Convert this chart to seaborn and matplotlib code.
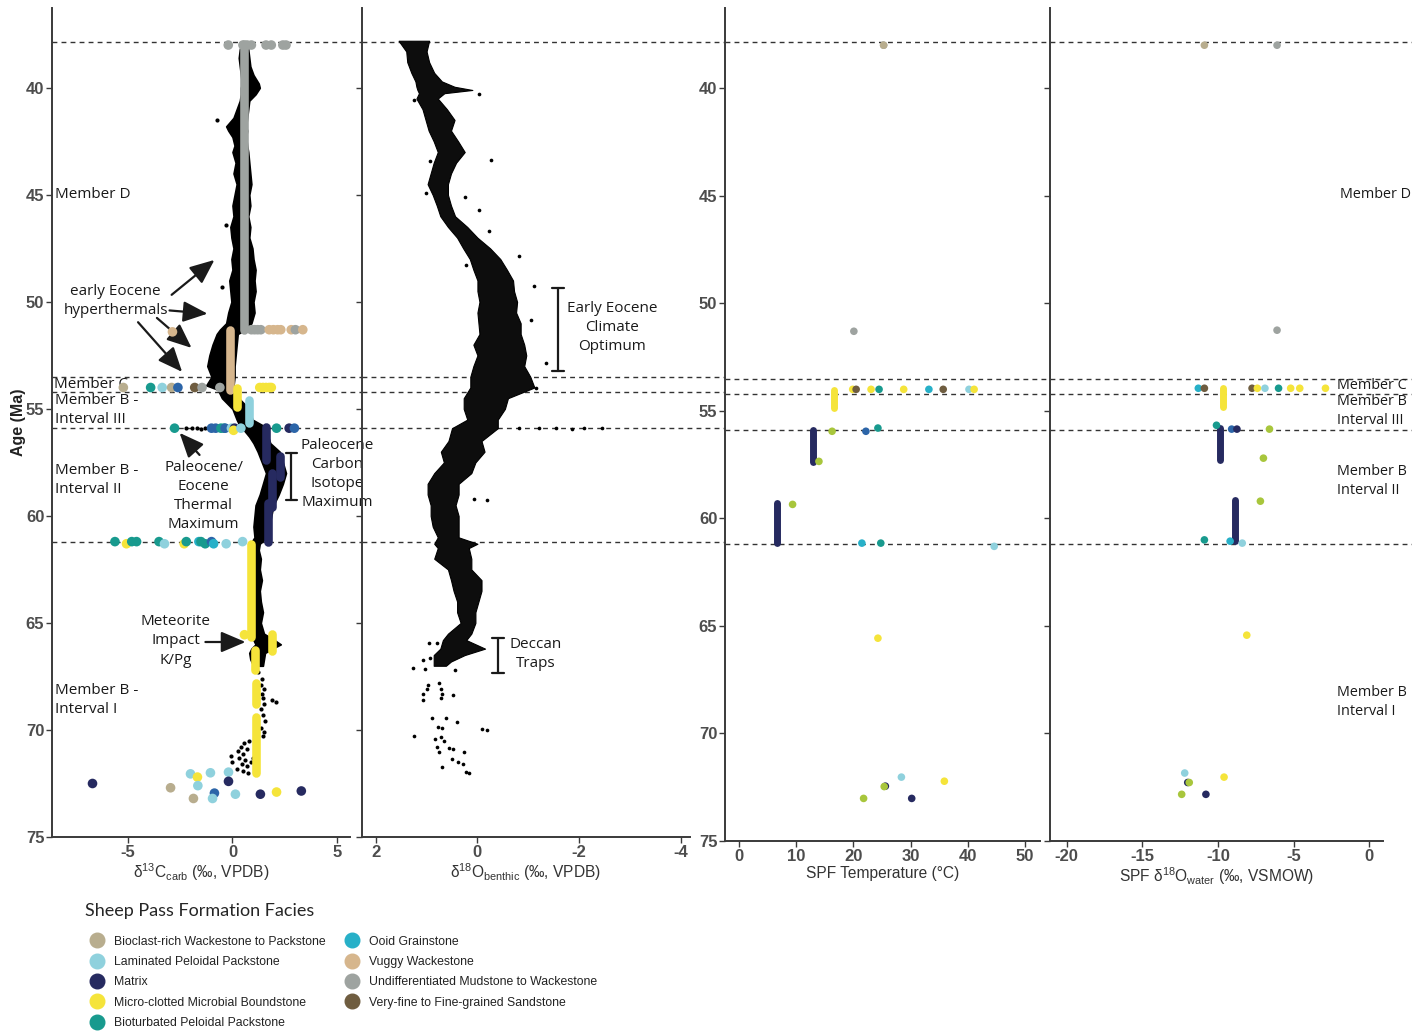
import matplotlib
matplotlib.use("Agg")
import matplotlib.pyplot as plt
import seaborn as sns
import pandas as pd
from matplotlib.lines import Line2D

sns.set_theme(style="white")
plt.rcParams["font.family"] = ["Liberation Sans", "DejaVu Sans"]
plt.rcParams["mathtext.fontset"] = "custom"
plt.rcParams["mathtext.rm"] = "Liberation Sans"
plt.rcParams["mathtext.it"] = "Liberation Sans:italic"
plt.rcParams["axes.unicode_minus"] = False

# ---------------------------------------------------------------- facies
facies_codes = ["BW", "LP", "MX", "MC", "BP", "OG", "VW", "UM", "SS"]
facies_labels = [
    "Bioclast-rich Wackestone to Packstone",
    "Laminated Peloidal Packstone",
    "Matrix",
    "Micro-clotted Microbial Boundstone",
    "Bioturbated Peloidal Packstone",
    "Ooid Grainstone",
    "Vuggy Wackestone",
    "Undifferentiated Mudstone to Wackestone",
    "Very-fine to Fine-grained Sandstone",
]
facies_colors = ["#b8ad8e", "#8fd1dd", "#262a60", "#f5e43a", "#189a8e",
                 "#27b0c8", "#d6b68d", "#9ea3a0", "#6f5d40"]
extra_codes = ["bl", "ol"]
extra_colors = ["#2c65a8", "#a8c63c"]
palette = dict(zip(facies_codes + extra_codes, facies_colors + extra_colors))

# ---------------------------------------------------------------- boundaries
boundary_ages = [37.85, 53.5, 54.2, 55.9, 61.2]

# ---------------------------------------------------------------- benthic d13C compilation (envelope)
c13_env_age = [37.85, 38.2, 38.6, 39.0, 39.4, 39.8, 40.0, 40.3, 40.6, 41.0, 41.4, 41.8,
               42.0, 42.3, 42.7, 43.0, 43.5, 44.0, 44.5, 45.0, 45.5, 46.0, 46.5, 47.0,
               47.5, 48.0, 48.5, 49.0, 49.5, 50.0, 50.5, 51.0, 51.3, 51.5, 52.0, 52.5,
               53.0, 53.5, 53.9, 54.1, 54.5, 55.0, 55.5, 55.8, 56.0, 56.3, 56.6, 57.0,
               57.5, 58.0, 58.5, 59.0, 59.5, 60.0, 60.5, 61.0, 61.3, 61.6, 62.0, 62.5,
               63.0, 63.5, 64.0, 64.5, 65.0, 65.5, 65.8, 66.0, 66.2, 66.4, 66.7, 67.0]
c13_env_lo = [0.45, 0.35, 0.30, 0.35, 0.40, 0.45, 0.40, 0.40, 0.35, 0.20, 0.05, -0.30,
              -0.20, 0.00, 0.10, 0.00, 0.15, 0.05, 0.20, 0.10, 0.00, 0.05, -0.10, -0.05,
              0.05, -0.05, 0.00, -0.15, -0.10, -0.05, -0.20, -0.30, -0.60, -0.75, -0.95, -1.10,
              -1.20, -1.00, -1.25, -0.70, -0.50, 0.00, 0.20, 0.35, 0.55, 0.80, 1.00, 1.20,
              1.40, 1.60, 1.45, 1.30, 1.10, 1.05, 1.00, 1.05, 0.85, 0.85, 0.90, 0.85,
              0.90, 0.85, 0.90, 0.85, 0.90, 0.95, 1.00, 1.10, 0.90, 0.80, 0.85, 1.00]
c13_env_hi = [0.75, 0.75, 0.80, 0.85, 1.00, 1.25, 1.30, 1.10, 0.80, 0.75, 0.70, 0.65,
              0.70, 0.65, 0.70, 0.75, 0.80, 0.85, 0.90, 0.80, 0.85, 0.75, 0.85, 0.80,
              0.95, 1.00, 1.10, 1.05, 1.10, 1.00, 1.05, 0.90, 0.60, 0.25, 0.20, 0.15,
              0.10, 0.10, 0.05, 0.15, 0.30, 0.80, 0.95, 1.50, 1.65, 1.70, 1.80, 2.25,
              2.40, 2.55, 2.40, 2.20, 1.95, 1.85, 1.75, 1.65, 1.30, 1.25, 1.35, 1.30,
              1.40, 1.30, 1.35, 1.45, 1.35, 1.50, 2.00, 2.30, 1.90, 1.55, 1.50, 1.45]
# isolated benthic d13C values
c13_pts_age = [41.5, 46.4, 49.3, 55.9, 55.9, 55.9, 55.95, 55.9,
               67.3, 67.6, 67.9, 68.1, 68.3, 68.5, 68.6, 68.7, 68.8, 69.0, 69.3, 69.6,
               69.9, 70.1, 70.3, 70.5, 70.6, 70.8, 70.9, 71.0, 71.1, 71.2, 71.3, 71.4,
               71.5, 71.6, 71.7, 71.8, 71.9, 72.0, 71.5, 71.3]
c13_pts_val = [-0.76, -0.33, -0.48, -2.2, -1.95, -1.7, -1.5, -1.3,
               1.20, 1.40, 1.35, 1.50, 1.40, 1.45, 1.90, 2.05, 1.50, 1.35, 1.45, 1.55,
               1.35, 1.50, 1.45, 0.80, 0.55, 0.40, 0.70, 0.25, 0.50, -0.05, 0.30, 0.60,
               0.00, 0.45, 0.70, 0.20, 0.50, 0.75, 0.90, 1.00]

# ---------------------------------------------------------------- Sheep Pass d13C carb
c13_fac = ["UM", "UM", "UM", "UM", "UM", "UM", "UM", "UM",
           "VW", "UM", "UM", "UM", "UM", "VW", "VW", "VW", "VW", "VW", "UM", "VW",
           "BW", "BP", "LP", "BW", "bl", "SS", "UM", "UM", "MC", "MC", "MC", "MC", "MC",
           "BP", "bl", "bl", "BP", "BP", "bl", "LP", "MX", "MC", "LP", "BP", "MX", "bl",
           "BP", "MC", "BP", "BP", "BP", "LP", "MC", "BP", "OG", "BP", "BP", "bl", "OG", "LP", "LP",
           "MC",
           "MX", "LP", "MC", "LP", "LP", "MX", "BW", "LP", "bl", "LP", "BW", "LP", "MX", "MC", "MX"]
c13_val = [-0.2, 0.5, 0.7, 0.9, 1.6, 1.85, 2.4, 2.55,
           -2.86, 0.9, 1.05, 1.2, 1.35, 1.75, 1.95, 2.15, 2.3, 2.8, 3.0, 3.35,
           -5.2, -3.9, -3.35, -2.9, -2.6, -1.8, -1.45, -0.6, 1.3, 1.45, 1.6, 1.75, 1.85,
           -2.76, -1.0, -0.8, -0.55, -0.4, -0.35, -0.05, 0.1, 0.05, 0.4, 2.1, 2.7, 2.95,
           -5.6, -5.05, -4.8, -4.57, -3.5, -3.24, -2.3, -2.2, -1.6, -1.5, -1.3, -1.0, -0.9, -0.3, 0.48,
           0.57,
           -6.67, -2.0, -1.67, -1.05, -0.19, -0.19, -2.95, -1.65, -0.86, -0.95, -1.86, 0.14, 1.33, 2.1, 3.28]
c13_age = [38.0, 38.0, 38.0, 38.0, 38.0, 38.0, 38.0, 38.0,
           51.4, 51.3, 51.3, 51.3, 51.3, 51.3, 51.3, 51.3, 51.3, 51.3, 51.3, 51.3,
           54.0, 54.0, 54.0, 54.0, 54.0, 54.0, 54.0, 54.0, 54.0, 54.0, 54.0, 54.0, 54.0,
           55.9, 55.9, 55.9, 55.9, 55.9, 55.9, 55.9, 55.9, 56.0, 55.9, 55.9, 55.9, 55.9,
           61.2, 61.3, 61.2, 61.2, 61.2, 61.3, 61.3, 61.2, 61.2, 61.2, 61.3, 61.2, 61.3, 61.3, 61.2,
           65.55,
           72.5, 72.05, 72.2, 72.0, 71.97, 72.4, 72.7, 72.6, 72.95, 73.2, 73.2, 73.0, 73.0, 72.9, 72.85]
# densely sampled stratigraphic runs (drawn as continuous columns)
c13_run_fac = ["UM", "VW", "MC", "LP", "MX", "MX", "MX", "MX", "MC", "MC", "MC", "MC", "MC"]
c13_run_val = [0.57, -0.14, 0.2, 0.8, 1.6, 2.25, 1.9, 1.7, 0.9, 1.86, 1.05, 1.13, 1.13]
c13_run_top = [37.95, 51.3, 54.0, 54.6, 55.85, 57.2, 58.0, 59.4, 61.3, 65.5, 66.25, 67.8, 69.4]
c13_run_bot = [51.3, 54.1, 54.9, 55.65, 57.4, 58.2, 59.6, 61.2, 65.65, 66.3, 67.2, 68.8, 72.0]

# ---------------------------------------------------------------- benthic d18O compilation (envelope)
o18_env_age = [37.8, 38.3, 38.8, 39.3, 39.7, 39.95, 40.1, 40.25, 40.5, 41.0, 41.5, 42.0, 42.5,
               43.0, 43.5, 44.0, 44.5, 45.0, 45.5, 46.0, 46.5, 47.0, 47.5, 48.0, 48.5,
               49.0, 49.5, 50.0, 50.5, 51.0, 51.5, 52.0, 52.5, 53.0, 53.5, 54.0, 54.5,
               55.0, 55.5, 55.9, 56.5, 57.0, 57.5, 58.0, 58.5, 59.0, 59.5, 60.0, 60.5,
               61.0, 61.3, 61.5, 62.0, 62.5, 63.0, 63.5, 64.0, 64.5, 65.0, 65.5, 65.8,
               66.2, 66.5, 66.8, 67.0]
o18_env_heavy = [1.55, 1.40, 1.38, 1.30, 1.22, 1.20, 1.18, 1.15, 1.20, 1.08, 1.02, 0.96, 0.86,
                 0.78, 0.86, 0.92, 0.98, 0.88, 0.80, 0.73, 0.58, 0.40, 0.28, 0.15, 0.08,
                 0.00, 0.00, -0.04, 0.00, -0.02, -0.04, 0.08, 0.00, 0.08, 0.14, 0.14, 0.27,
                 0.27, 0.20, 0.50, 0.57, 0.72, 0.66, 0.85, 0.98, 0.98, 0.92, 0.92, 0.88,
                 0.78, 0.85, 0.78, 0.85, 0.58, 0.52, 0.47, 0.40, 0.40, 0.33, 0.58, 0.68,
                 0.73, 0.86, 0.86, 0.86]
o18_env_light = [0.95, 1.00, 0.95, 0.85, 0.70, 0.45, 0.10, 0.65, 0.78, 0.60, 0.45, 0.52, 0.38,
                 0.25, 0.42, 0.52, 0.58, 0.58, 0.52, 0.44, 0.20, 0.00, -0.25, -0.45, -0.58,
                 -0.70, -0.72, -0.78, -0.76, -0.85, -0.85, -0.92, -0.96, -0.92, -1.04, -1.12, -0.60,
                 -0.54, -0.40, -0.40, -0.08, -0.14, 0.04, 0.12, 0.37, 0.37, 0.43, 0.37, 0.37,
                 0.37, 0.00, 0.17, 0.12, 0.12, -0.08, -0.08, -0.02, 0.04, 0.04, 0.12, 0.22,
                 -0.15, 0.25, 0.52, 0.62]
o18_pts_age = [40.3, 40.56, 43.36, 43.4, 44.9, 45.1, 45.7, 46.7, 47.85, 48.27, 49.25,
               50.84, 52.85, 54.0, 55.9, 55.9, 55.9, 55.95, 55.9, 55.9,
               59.25, 59.2,
               65.93, 65.93, 66.73, 66.65, 67.1, 67.15, 67.2, 67.9, 67.8, 68.1, 68.1, 68.3,
               68.3, 68.35, 68.6, 68.5, 69.44, 69.44, 69.85, 69.9, 69.65, 69.95, 70.0, 70.3,
               70.4, 70.35, 70.5, 70.8, 70.85, 71.05, 70.9, 71.35, 71.05, 71.5, 71.6, 71.75,
               71.95, 72.0]
o18_pts_val = [-0.04, 1.25, -0.27, 0.94, 1.02, 0.25, -0.04, -0.22, -0.82, 0.22, -1.12,
               -1.06, -1.35, -1.16, -0.82, -1.22, -1.55, -1.85, -2.1, -2.45,
               -0.18, 0.06,
               0.96, 0.80, 1.08, 0.94, 1.27, 1.04, 0.45, 0.98, 0.75, 1.00, 0.71, 1.08,
               0.69, 0.49, 1.08, 0.71, 0.90, 0.61, 0.78, 0.69, 0.41, -0.08, -0.18, 1.25,
               0.84, 0.71, 0.65, 0.80, 0.55, 0.75, 0.49, 0.51, 0.27, 0.39, 0.29, 0.69,
               0.22, 0.16]

# ---------------------------------------------------------------- Sheep Pass clumped-isotope temperatures
tmp_fac = ["UM", "BW", "UM",
           "MC", "SS", "MC", "BP", "MC", "OG", "SS", "LP", "MC",
           "ol", "ol", "bl", "BP", "ol", "OG", "BP", "LP", "MC",
           "LP", "MC", "MX", "ol", "ol", "MX"]
tmp_val = [25.3, 25.3, 20.1,
           19.9, 20.5, 23.1, 24.5, 28.8, 33.2, 35.7, 40.2, 41.1,
           16.3, 14.0, 22.2, 24.3, 9.4, 21.5, 24.8, 44.6, 24.3,
           28.4, 35.9, 25.6, 25.4, 21.8, 30.2]
tmp_age = [38.0, 38.0, 51.3,
           54.0, 54.0, 54.0, 54.0, 54.0, 54.0, 54.0, 54.0, 54.0,
           55.95, 57.35, 55.95, 55.8, 59.35, 61.15, 61.15, 61.3, 65.57,
           72.03, 72.22, 72.45, 72.47, 73.02, 73.02]
tmp_run_fac = ["MC", "MX", "MX"]
tmp_run_val = [16.6, 12.9, 6.6]
tmp_run_top = [54.04, 55.9, 59.3]
tmp_run_bot = [54.88, 57.4, 61.15]

# ---------------------------------------------------------------- Sheep Pass d18O water
wat_fac = ["BW", "UM", "UM",
           "OG", "SS", "SS", "MC", "LP", "BP", "MC", "MC", "MC",
           "BP", "bl", "MX", "ol", "ol", "ol", "BP", "OG", "LP", "MC",
           "LP", "MC", "MX", "ol", "ol", "MX"]
wat_val = [-10.9, -6.1, -6.1,
           -11.3, -10.9, -7.75, -7.4, -6.9, -6.0, -5.2, -4.6, -2.9,
           -10.1, -9.1, -8.75, -6.6, -7.0, -7.2, -10.9, -9.2, -8.4, -8.1,
           -12.2, -9.6, -12.0, -11.9, -12.4, -10.8]
wat_age = [38.0, 38.0, 51.25,
           53.95, 53.95, 53.95, 53.95, 53.95, 53.95, 53.95, 53.95, 53.95,
           55.67, 55.85, 55.85, 55.85, 57.2, 59.2, 61.0, 61.06, 61.15, 65.43,
           71.84, 72.03, 72.28, 72.28, 72.83, 72.83]
wat_run_fac = ["MC", "MX", "MX"]
wat_run_val = [-9.7, -9.9, -8.9]
wat_run_top = [53.95, 55.8, 59.15]
wat_run_bot = [54.8, 57.3, 61.06]

# ---------------------------------------------------------------- figure
W, H = 1412, 1031
fig = plt.figure(figsize=(W / 100, H / 100), dpi=100)


def add_px_axes(left, right, top, bottom):
    return fig.add_axes([left / W, 1 - bottom / H, (right - left) / W, (bottom - top) / H])


panel_px = [(52, 350, 8, 837), (362, 690, 8, 837), (725, 1040, 8, 841), (1050, 1383, 8, 841)]
axes = [add_px_axes(*p) for p in panel_px]
ax1, ax2, ax3, ax4 = axes

ANN = ["Open Sans", "DejaVu Sans"]
TICK_COLOR = "#4d4d4d"
SPINE = "#3a3a3a"
LAB = dict(fontsize=11.2, color="#333333", labelpad=1.5)

for i, ax in enumerate(axes):
    ax.set_facecolor("none")
    for s in ["top", "right"]:
        ax.spines[s].set_visible(False)
    for s in ["left", "bottom"]:
        ax.spines[s].set_color(SPINE)
        ax.spines[s].set_linewidth(1.4)
    # boundary lines run on to the next panel
    l, r = panel_px[i][0], panel_px[i][1]
    nxt = panel_px[i + 1][0] if i < 3 else W
    frac = (nxt - l) / (r - l)
    for a in boundary_ages:
        ax.plot([0, frac], [a, a], transform=ax.get_yaxis_transform(), clip_on=False,
                color="#333333", lw=1.0, ls=(0, (3.5, 3)), zorder=1.5)


def draw_runs(ax, fac, val, top, bot, lw):
    for f, v, t, b in zip(fac, val, top, bot):
        ax.plot([v, v], [t, b], color=palette[f], lw=lw, solid_capstyle="round", zorder=4)


def draw_points(ax, fac, val, age, size):
    df = pd.DataFrame({"facies": fac, "value": val, "age": age})
    sns.scatterplot(data=df, x="value", y="age", hue="facies", palette=palette,
                    s=size, linewidth=0, legend=False, ax=ax, zorder=5)


# panel 1: d13C
ax1.fill_betweenx(c13_env_age, c13_env_lo, c13_env_hi, color="black", lw=1.2,
                  edgecolor="black", zorder=2)
sns.scatterplot(x=c13_pts_val, y=c13_pts_age, color="black", s=9, linewidth=0,
                ax=ax1, zorder=3)
draw_runs(ax1, c13_run_fac, c13_run_val, c13_run_top, c13_run_bot, 6.2)
draw_points(ax1, c13_fac, c13_val, c13_age, 48)
ax1.set_xlim(-8.6, 5.6)
ax1.set_xticks([-5, 0, 5])
ax1.set_xlabel(r"δ$^{13}$C$_{\rm carb}$ (‰, VPDB)", **LAB)

# panel 2: d18O benthic
ax2.fill_betweenx(o18_env_age, o18_env_heavy, o18_env_light, color="#0d0d0d", lw=0.8,
                  edgecolor="black", zorder=2)
sns.scatterplot(x=o18_pts_val, y=o18_pts_age, color="black", s=7, linewidth=0,
                ax=ax2, zorder=3)
ax2.set_xlim(2.27, -4.18)
ax2.set_xticks([2, 0, -2, -4])
ax2.set_xlabel(r"δ$^{18}$O$_{\rm benthic}$ (‰, VPDB)", **LAB)

# panel 3: temperature
draw_runs(ax3, tmp_run_fac, tmp_run_val, tmp_run_top, tmp_run_bot, 5)
draw_points(ax3, tmp_fac, tmp_val, tmp_age, 30)
ax3.set_xlim(-2.4, 52.6)
ax3.set_xticks([0, 10, 20, 30, 40, 50])
ax3.set_xlabel("SPF Temperature (°C)", **LAB)

# panel 4: d18O water
draw_runs(ax4, wat_run_fac, wat_run_val, wat_run_top, wat_run_bot, 5)
draw_points(ax4, wat_fac, wat_val, wat_age, 30)
ax4.set_xlim(-21.1, 0.9)
ax4.set_xticks([-20, -15, -10, -5, 0])
ax4.set_xlabel(r"SPF δ$^{18}$O$_{\rm water}$ (‰, VSMOW)", **LAB)

for i, ax in enumerate(axes):
    ax.set_ylim(75, 36.27)
    ax.set_yticks([40, 45, 50, 55, 60, 65, 70, 75])
    ax.tick_params(axis="both", direction="out", length=4, width=1, color=SPINE,
                   labelsize=12, labelcolor=TICK_COLOR, pad=1.5, left=True, bottom=True)
    if i in (1, 3):
        ax.set_yticklabels([])
    ax.set_ylabel("")
    for lab in ax.get_xticklabels() + ax.get_yticklabels():
        lab.set_fontweight("bold")

ax1.set_ylabel("Age (Ma)", fontsize=11.5, fontweight="bold", color="#222222")
ax1.yaxis.set_label_coords(-26 / 298, 0.5)

# ---------------------------------------------------------------- annotations
TXT = dict(fontsize=11, family=ANN, color="#1a1a1a")
ML = dict(linespacing=1.38)
ARW = dict(arrowstyle="-|>,head_length=0.75,head_width=0.32", color="#1a1a1a", lw=1.6,
           mutation_scale=20, shrinkA=0, shrinkB=0)

ax1.text(-8.48, 45.0, "Member D", ha="left", va="center", **TXT)
ax1.text(-5.57, 49.95, "early Eocene\nhyperthermals", ha="center", va="center", **ML, **TXT)
for tail, head in [((-2.9, 49.67), (-0.86, 48.04)), ((-3.0, 50.4), (-1.19, 50.55)),
                   ((-3.6, 50.75), (-1.95, 52.15)), ((-4.5, 50.95), (-2.4, 53.27))]:
    ax1.annotate("", xy=head, xytext=tail, arrowprops=ARW)
ax1.text(-8.5, 53.88, "Member C", ha="left", va="center", **TXT)
ax1.text(-8.45, 55.05, "Member B -\nInterval III", ha="left", va="center", **ML, **TXT)
ax1.text(-8.45, 58.32, "Member B -\nInterval II", ha="left", va="center", **ML, **TXT)
ax1.text(-8.45, 68.6, "Member B -\nInterval I", ha="left", va="center", **ML, **TXT)
ax1.text(-1.38, 59.07, "Paleocene/\nEocene\nThermal\nMaximum", ha="center", va="center", **ML, **TXT)
ax1.annotate("", xy=(-2.52, 56.12), xytext=(-1.57, 57.15), arrowprops=ARW)
ax1.plot([2.81, 2.81], [57.06, 59.25], color="#1a1a1a", lw=1.6, clip_on=False)
for a in (57.06, 59.25):
    ax1.plot([2.55, 3.07], [a, a], color="#1a1a1a", lw=1.6, clip_on=False)
ax1.text(5.0, 58.05, "Paleocene\nCarbon\nIsotope\nMaximum", ha="center", va="center", **ML, **TXT)
ax1.text(-2.71, 65.84, "Meteorite\nImpact\nK/Pg", ha="center", va="center", **ML, **TXT)
ax1.annotate("", xy=(0.62, 65.89), xytext=(-1.29, 65.89), arrowprops=ARW)

ax2.plot([-1.59, -1.59], [49.35, 53.22], color="#1a1a1a", lw=1.6)
for a in (49.35, 53.22):
    ax2.plot([-1.47, -1.71], [a, a], color="#1a1a1a", lw=1.6)
ax2.text(-2.65, 51.2, "Early Eocene\nClimate\nOptimum", ha="center", va="center", **ML, **TXT)
ax2.plot([-0.41, -0.41], [65.7, 67.34], color="#1a1a1a", lw=1.6)
for a in (65.7, 67.34):
    ax2.plot([-0.29, -0.53], [a, a], color="#1a1a1a", lw=1.6)
ax2.text(-1.14, 66.45, "Deccan\nTraps", ha="center", va="center", **ML, **TXT)

RT = dict(fontsize=10.4, family=ANN, color="#1a1a1a")
ax4.text(2.72, 44.93, "Member D", ha="right", va="center", clip_on=False, **RT)
ax4.text(-2.15, 53.81, "Member C", ha="left", va="center", **RT)
ax4.text(-2.15, 55.02, "Member B\nInterval III", ha="left", va="center", **ML, **RT)
ax4.text(-2.15, 58.27, "Member B\nInterval II", ha="left", va="center", **ML, **RT)
ax4.text(-2.15, 68.55, "Member B\nInterval I", ha="left", va="center", **ML, **RT)

# ---------------------------------------------------------------- legend
handles = [Line2D([], [], ls="", marker="o", ms=10.5, mfc=c, mec=c) for c in facies_colors]
leg = fig.legend(handles, facies_labels, loc="upper left", bbox_to_anchor=(85 / W, 1 - 903 / H),
                 ncol=2, frameon=False, title="Sheep Pass Formation Facies", alignment="left",
                 handletextpad=0.35, handlelength=2.0, labelspacing=0.68, columnspacing=1.2,
                 borderaxespad=0, borderpad=0,
                 prop={"family": ["Liberation Sans", "DejaVu Sans"], "size": 8.8},
                 title_fontproperties={"family": ["Lato", "DejaVu Sans"], "size": 13})
leg._legend_box.sep = 12
for t in leg.get_texts():
    t.set_color("#222222")

fig.savefig("out.png", dpi=100)
